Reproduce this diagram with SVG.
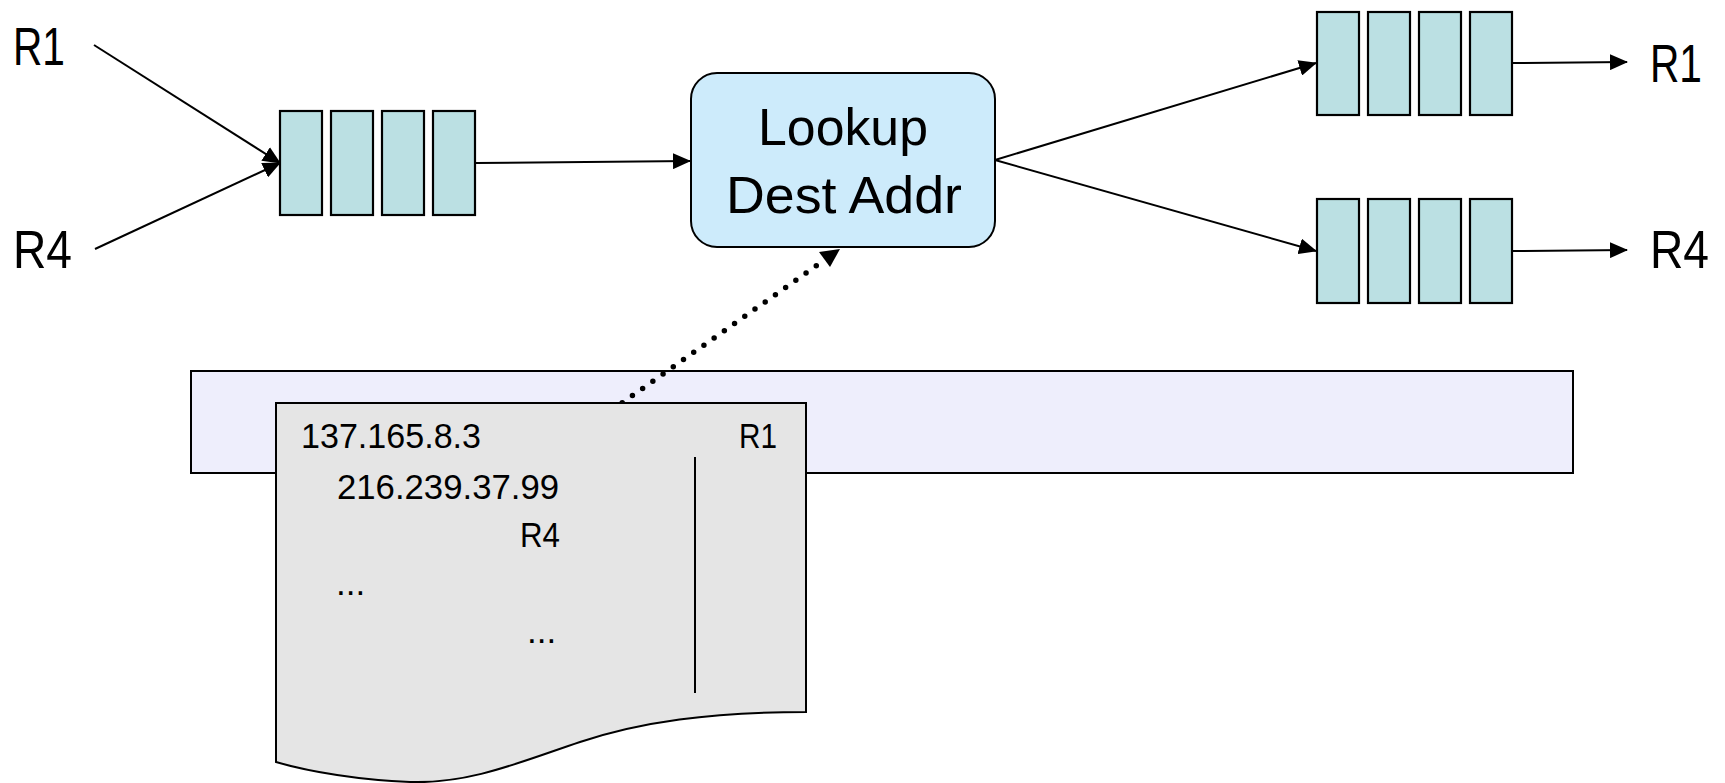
<svg xmlns="http://www.w3.org/2000/svg" width="1725" height="783" viewBox="0 0 1725 783">
<style>
  .lbl { font-family: "Liberation Sans", Arial, sans-serif; fill: #000; }
  .big { font-size: 53px; }
  .mid { font-size: 52px; }
  .sm { font-size: 35px; }
  .cell { fill: #bbe0e3; stroke: #000; stroke-width: 2.2; }
  .ln { stroke: #000; stroke-width: 2; fill: none; }
</style>
<defs>
  <marker id="ah" markerUnits="userSpaceOnUse" markerWidth="18" markerHeight="16" refX="17" refY="8" orient="auto">
    <path d="M0,0 L18,8 L0,16 z" fill="#000"/>
  </marker>
</defs>
<rect width="1725" height="783" fill="#fff"/>

<g id="label-R1-in"><text class="lbl big" x="13" y="65" textLength="52" lengthAdjust="spacingAndGlyphs">R1</text></g>
<g id="label-R4-in"><text class="lbl big" x="13" y="268" textLength="59" lengthAdjust="spacingAndGlyphs">R4</text></g>
<g id="label-R1-out"><text class="lbl big" x="1650" y="82" textLength="52" lengthAdjust="spacingAndGlyphs">R1</text></g>
<g id="label-R4-out"><text class="lbl big" x="1650" y="268" textLength="59" lengthAdjust="spacingAndGlyphs">R4</text></g>

<g id="queue-in">
  <rect class="cell" x="280" y="111" width="42" height="104"/>
  <rect class="cell" x="331" y="111" width="42" height="104"/>
  <rect class="cell" x="382" y="111" width="42" height="104"/>
  <rect class="cell" x="433" y="111" width="42" height="104"/>
</g>
<g id="queue-out-R1">
  <rect class="cell" x="1317" y="12" width="42" height="103"/>
  <rect class="cell" x="1368" y="12" width="42" height="103"/>
  <rect class="cell" x="1419" y="12" width="42" height="103"/>
  <rect class="cell" x="1470" y="12" width="42" height="103"/>
</g>
<g id="queue-out-R4">
  <rect class="cell" x="1317" y="199" width="42" height="104"/>
  <rect class="cell" x="1368" y="199" width="42" height="104"/>
  <rect class="cell" x="1419" y="199" width="42" height="104"/>
  <rect class="cell" x="1470" y="199" width="42" height="104"/>
</g>

<g id="lookup">
  <rect x="691" y="73" width="304" height="174" rx="26" ry="26" fill="#cdebfb" stroke="#000" stroke-width="2"/>
  <text class="lbl mid" x="843" y="145" text-anchor="middle" textLength="170" lengthAdjust="spacingAndGlyphs">Lookup</text>
  <text class="lbl mid" x="844" y="213" text-anchor="middle" textLength="236" lengthAdjust="spacingAndGlyphs">Dest Addr</text>
</g>

<g id="table-bar">
  <rect x="191" y="371" width="1382" height="102" fill="#eeeefc" stroke="#000" stroke-width="2"/>
</g>

<g id="connectors">
  <line class="ln" x1="94" y1="45" x2="280" y2="163" marker-end="url(#ah)"/>
  <line class="ln" x1="95" y1="249" x2="280" y2="163" marker-end="url(#ah)"/>
  <line class="ln" x1="476" y1="163" x2="690" y2="161" marker-end="url(#ah)"/>
  <line class="ln" x1="995" y1="160" x2="1316" y2="63" marker-end="url(#ah)"/>
  <line class="ln" x1="995" y1="160" x2="1316" y2="251" marker-end="url(#ah)"/>
  <line class="ln" x1="1512" y1="63" x2="1627" y2="62" marker-end="url(#ah)"/>
  <line class="ln" x1="1512" y1="251" x2="1627" y2="250" marker-end="url(#ah)"/>
  <line x1="612" y1="410" x2="826" y2="259" stroke="#000" stroke-width="5.5" stroke-linecap="round" stroke-dasharray="0 12.5"/>
  <path d="M840,249 L819,252 L830,267 z" fill="#000"/>
</g>

<g id="routing-table">
  <path d="M276,403 H806 V712 C710,712 640,722 580,742 C520,762 470,784 410,782 C360,780 310,772 276,762 Z" fill="#e5e5e5" stroke="#000" stroke-width="2"/>
  <line x1="695" y1="457" x2="695" y2="693" stroke="#000" stroke-width="2"/>
  <text class="lbl sm" x="301" y="448" textLength="180" lengthAdjust="spacingAndGlyphs">137.165.8.3</text>
  <text class="lbl sm" x="739" y="448" textLength="38" lengthAdjust="spacingAndGlyphs">R1</text>
  <text class="lbl sm" x="337" y="499" textLength="222" lengthAdjust="spacingAndGlyphs">216.239.37.99</text>
  <text class="lbl sm" x="520" y="547" textLength="40" lengthAdjust="spacingAndGlyphs">R4</text>
  <text class="lbl sm" x="336" y="595">...</text>
  <text class="lbl sm" x="527" y="643">...</text>
</g>
</svg>
